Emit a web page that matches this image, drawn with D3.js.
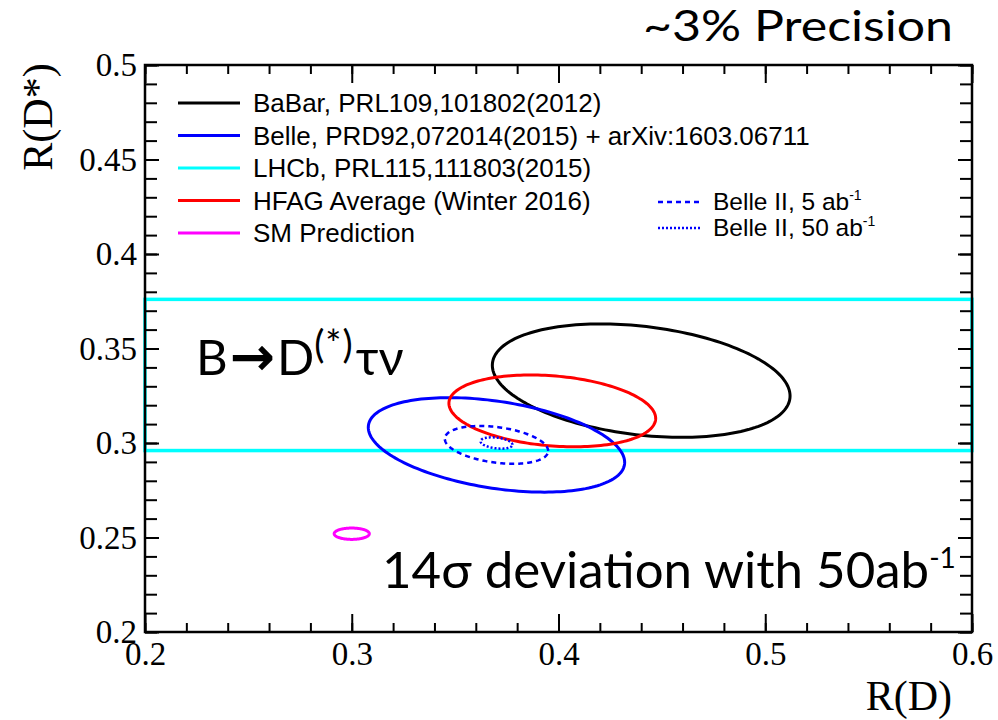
<!DOCTYPE html>
<html>
<head>
    <meta charset="utf-8">
    <title>R(D) vs R(D*)</title>
    <script src="https://d3js.org/d3.v7.min.js"></script>
    <style>
        body { margin: 0; background: #fff; }
        .tick text { font-family: "Liberation Serif", serif; font-size: 33px; fill: #000; }
        .tick line { stroke: #000; stroke-width: 2px; }
        .domain { display: none; }
        .leg { font-family: "Liberation Sans", Arial, sans-serif; fill: #000; }
        .calib { font-family: Lato, "Open Sans", sans-serif; fill: #000; }
    </style>
</head>
<body>
    <div id="chart"></div>
    <script>
        // measurements (1 sigma contours): central values, errors, correlation
        const names = ["BaBar", "Belle", "HFAG", "SM", "BelleII5", "BelleII50"];
        const rdCentral = [0.440, 0.370, 0.397, 0.300, 0.370, 0.370];
        const rdstarCentral = [0.333, 0.299, 0.317, 0.252, 0.299, 0.300];
        const rdError = [0.072, 0.062, 0.050, 0.0085, 0.025, 0.0077];
        const rdstarError = [0.030, 0.025, 0.019, 0.003, 0.010, 0.003];
        const correlation = [-0.27, -0.37, -0.21, 0, -0.32, -0.30];

        // LHCb only measures R(D*)
        const lhcbRDstar = 0.336;
        const lhcbError = 0.040;

        const xTicks = [0.2, 0.3, 0.4, 0.5, 0.6];
        const yTicks = [0.2, 0.25, 0.3, 0.35, 0.4, 0.45, 0.5];

        const legendLabels = [
            "BaBar, PRL109,101802(2012)",
            "Belle, PRD92,072014(2015) + arXiv:1603.06711",
            "LHCb, PRL115,111803(2015)",
            "HFAG Average (Winter 2016)",
            "SM Prediction"
        ];
        const legend2Labels = ["Belle II, 5 ab", "Belle II, 50 ab"];

        // styles
        const colors = ["#000000", "#0000ff", "#ff0000", "#ff00ff", "#0000ff", "#0000ff"];
        const dashes = [null, null, null, null, "5,4", "2,2"];
        const legendColors = ["#000000", "#0000ff", "#00ffff", "#ff0000", "#ff00ff"];

        const width = 998, height = 720;
        const mLeft = 145, mRight = 972, mTop = 65, mBottom = 632;

        const svg = d3.select("#chart").append("svg")
            .attr("width", width)
            .attr("height", height);

        const x = d3.scaleLinear().domain([0.2, 0.6]).range([mLeft, mRight]);
        const y = d3.scaleLinear().domain([0.2, 0.5]).range([mBottom, mTop]);
        const fmt = d3.format("~g");

        // LHCb band
        svg.append("rect")
            .attr("x", x(0.2))
            .attr("y", y(lhcbRDstar + lhcbError))
            .attr("width", x(0.6) - x(0.2))
            .attr("height", y(lhcbRDstar - lhcbError) - y(lhcbRDstar + lhcbError))
            .attr("fill", "none")
            .attr("stroke", "#00ffff")
            .attr("stroke-width", 3.5);

        // ellipses
        const line = d3.line()
            .x(d => x(d[0]))
            .y(d => y(d[1]))
            .curve(d3.curveLinearClosed);
        const angles = d3.range(0, 2 * Math.PI, Math.PI / 90);

        names.forEach((n, i) => {
            const r = correlation[i];
            const pts = angles.map(t => [
                rdCentral[i] + rdError[i] * Math.cos(t),
                rdstarCentral[i] + rdstarError[i] * (r * Math.cos(t) + Math.sqrt(1 - r * r) * Math.sin(t))
            ]);
            svg.append("path")
                .attr("d", line(pts))
                .attr("fill", "none")
                .attr("stroke", colors[i])
                .attr("stroke-width", i >= 4 ? 2.5 : 3)
                .attr("stroke-dasharray", dashes[i]);
        });

        // axes: major + minor ticks on all four sides, pointing inward
        svg.append("g").attr("transform", `translate(0,${mBottom})`)
            .call(d3.axisBottom(x).tickValues(xTicks).tickSize(-18).tickPadding(10).tickFormat(fmt));
        svg.append("g").attr("transform", `translate(0,${mBottom})`)
            .call(d3.axisBottom(x).ticks(20).tickSize(-9).tickFormat(""));
        svg.append("g").attr("transform", `translate(0,${mTop})`)
            .call(d3.axisTop(x).tickValues(xTicks).tickSize(-18).tickFormat(""));
        svg.append("g").attr("transform", `translate(0,${mTop})`)
            .call(d3.axisTop(x).ticks(20).tickSize(-9).tickFormat(""));

        svg.append("g").attr("transform", `translate(${mLeft},0)`)
            .call(d3.axisLeft(y).tickValues(yTicks).tickSize(-14).tickPadding(8).tickFormat(fmt));
        svg.append("g").attr("transform", `translate(${mLeft},0)`)
            .call(d3.axisLeft(y).ticks(30).tickSize(-12).tickFormat(""));
        svg.append("g").attr("transform", `translate(${mRight},0)`)
            .call(d3.axisRight(y).tickValues(yTicks).tickSize(-14).tickFormat(""));
        svg.append("g").attr("transform", `translate(${mRight},0)`)
            .call(d3.axisRight(y).ticks(30).tickSize(-12).tickFormat(""));

        svg.selectAll("g").attr("font-size", null).attr("font-family", null);

        // frame
        svg.append("rect")
            .attr("x", mLeft).attr("y", mTop)
            .attr("width", mRight - mLeft).attr("height", mBottom - mTop)
            .attr("fill", "none").attr("stroke", "#000").attr("stroke-width", 2.5);

        // axis titles
        svg.append("text")
            .attr("x", 952).attr("y", 710)
            .attr("text-anchor", "end")
            .attr("font-family", "Liberation Serif, serif")
            .attr("font-size", 42)
            .text("R(D)");
        svg.append("text")
            .attr("transform", "translate(52,117) rotate(-90)")
            .attr("text-anchor", "middle")
            .attr("font-family", "Liberation Serif, serif")
            .attr("font-size", 42)
            .text("R(D*)");

        // legend
        const leg = svg.append("g");
        legendLabels.forEach((lab, i) => {
            const yy = 112 + i * 32.5;
            leg.append("line")
                .attr("x1", 178).attr("x2", 240)
                .attr("y1", yy - 9).attr("y2", yy - 9)
                .attr("stroke", legendColors[i]).attr("stroke-width", 3);
            leg.append("text").attr("class", "leg")
                .attr("x", 253).attr("y", yy)
                .attr("font-size", 26)
                .text(lab);
        });
        legend2Labels.forEach((lab, i) => {
            const yy = 210 + i * 26;
            leg.append("line")
                .attr("x1", 658).attr("x2", 702)
                .attr("y1", yy - 8).attr("y2", yy - 8)
                .attr("stroke", "#0000ff").attr("stroke-width", 2.5)
                .attr("stroke-dasharray", dashes[4 + i]);
            const t = leg.append("text").attr("class", "leg")
                .attr("x", 713).attr("y", yy)
                .attr("font-size", 24.5)
                .text(lab);
            t.append("tspan").attr("dy", -10).attr("font-size", 14).text("-1");
        });

        // annotations
        svg.append("text").attr("class", "calib")
            .attr("x", 643).attr("y", 41)
            .attr("font-size", 42)
            .attr("textLength", 310)
            .attr("lengthAdjust", "spacingAndGlyphs")
            .text("~3% Precision");

        const decay = svg.append("text").attr("class", "calib")
            .attr("x", 196).attr("y", 375)
            .attr("font-size", 49);
        decay.append("tspan").text("B");
        decay.append("tspan").attr("font-family", "DejaVu Sans").attr("font-weight", "bold")
            .attr("font-size", 54).attr("dx", 2).text("\u2192");
        decay.append("tspan").attr("dx", 2).text("D");
        decay.append("tspan").attr("dy", -17).attr("font-size", 38).attr("letter-spacing", 1).text("(*)");
        decay.append("tspan").attr("dy", 17).attr("dx", 2).text("\u03c4\u03bd");

        const dev = svg.append("text").attr("class", "calib")
            .attr("x", 382).attr("y", 588)
            .attr("font-size", 51);
        dev.append("tspan").text("14\u03c3 deviation with 50ab");
        dev.append("tspan").attr("dy", -20).attr("font-size", 28).text("-1");
    </script>
</body>
</html>
